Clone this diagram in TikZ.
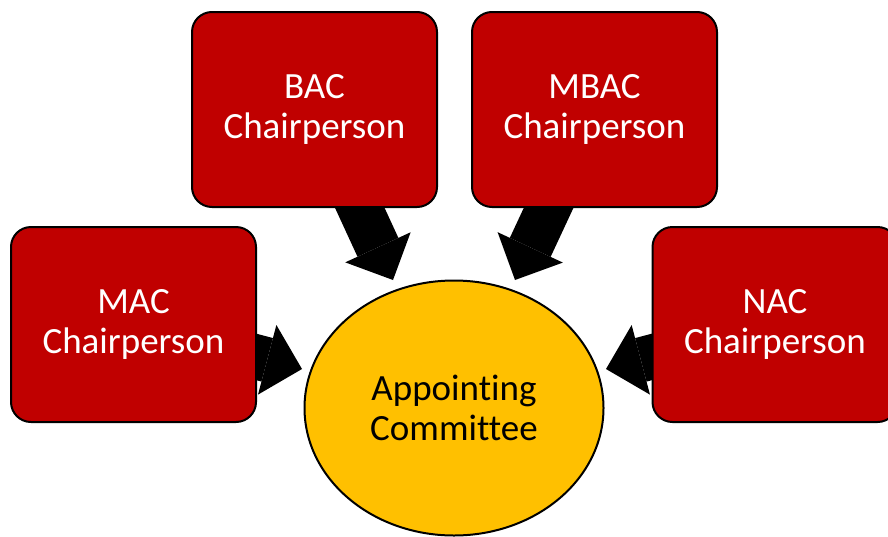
\documentclass[tikz,border=0pt]{standalone}
\usepackage{fontspec}
\setmainfont{Carlito}[Ligatures=CommonOff]
\usetikzlibrary{arrows.meta,shapes.geometric}
\definecolor{boxred}{HTML}{C00000}
\definecolor{ellgold}{HTML}{FFC000}
\pgfdeclarelayer{bg}
\pgfsetlayers{bg,main}
\begin{document}
\begin{tikzpicture}[x=1pt,y=-1pt,
  chairbox/.style={rectangle, rounded corners=20pt, draw=black, line width=2pt,
    fill=boxred, text=white, minimum width=245pt, minimum height=195pt,
    align=center, inner sep=0pt, font=\fontsize{37}{40}\selectfont},
  committee/.style={ellipse, draw=black, line width=2pt, fill=ellgold,
    text=black, minimum width=299pt, minimum height=255pt, align=center,
    inner sep=0pt, font=\fontsize{37}{40}\selectfont},
  bigarrow/.style={line width=45pt, draw=black,
    -{Triangle[length=36pt,width=72pt,line width=0pt]}}]
\useasboundingbox (0,0) rectangle (888,536);
\node[chairbox] (bac) at (314.5,109.5) {BAC\\Chairperson};
\node[chairbox] (mbac) at (594.5,109.5) {MBAC\\Chairperson};
\node[chairbox] (mac) at (133.5,324.5) {MAC\\Chairperson};
\node[chairbox] (nac) at (775,324.5) {NAC\\Chairperson};
\node[committee] (ac) at (454,408) {Appointing\\Committee};
\coordinate (tb) at (393,280);
\coordinate (tm) at (515,280);
\coordinate (tl) at (302,369);
\coordinate (tn) at (606,369);
\begin{pgfonlayer}{bg}
\draw[bigarrow] (bac.center) -- (tb);
\draw[bigarrow] (mbac.center) -- (tm);
\draw[bigarrow] (mac.center) -- (tl);
\draw[bigarrow] (nac.center) -- (tn);
\end{pgfonlayer}
\end{tikzpicture}
\end{document}
